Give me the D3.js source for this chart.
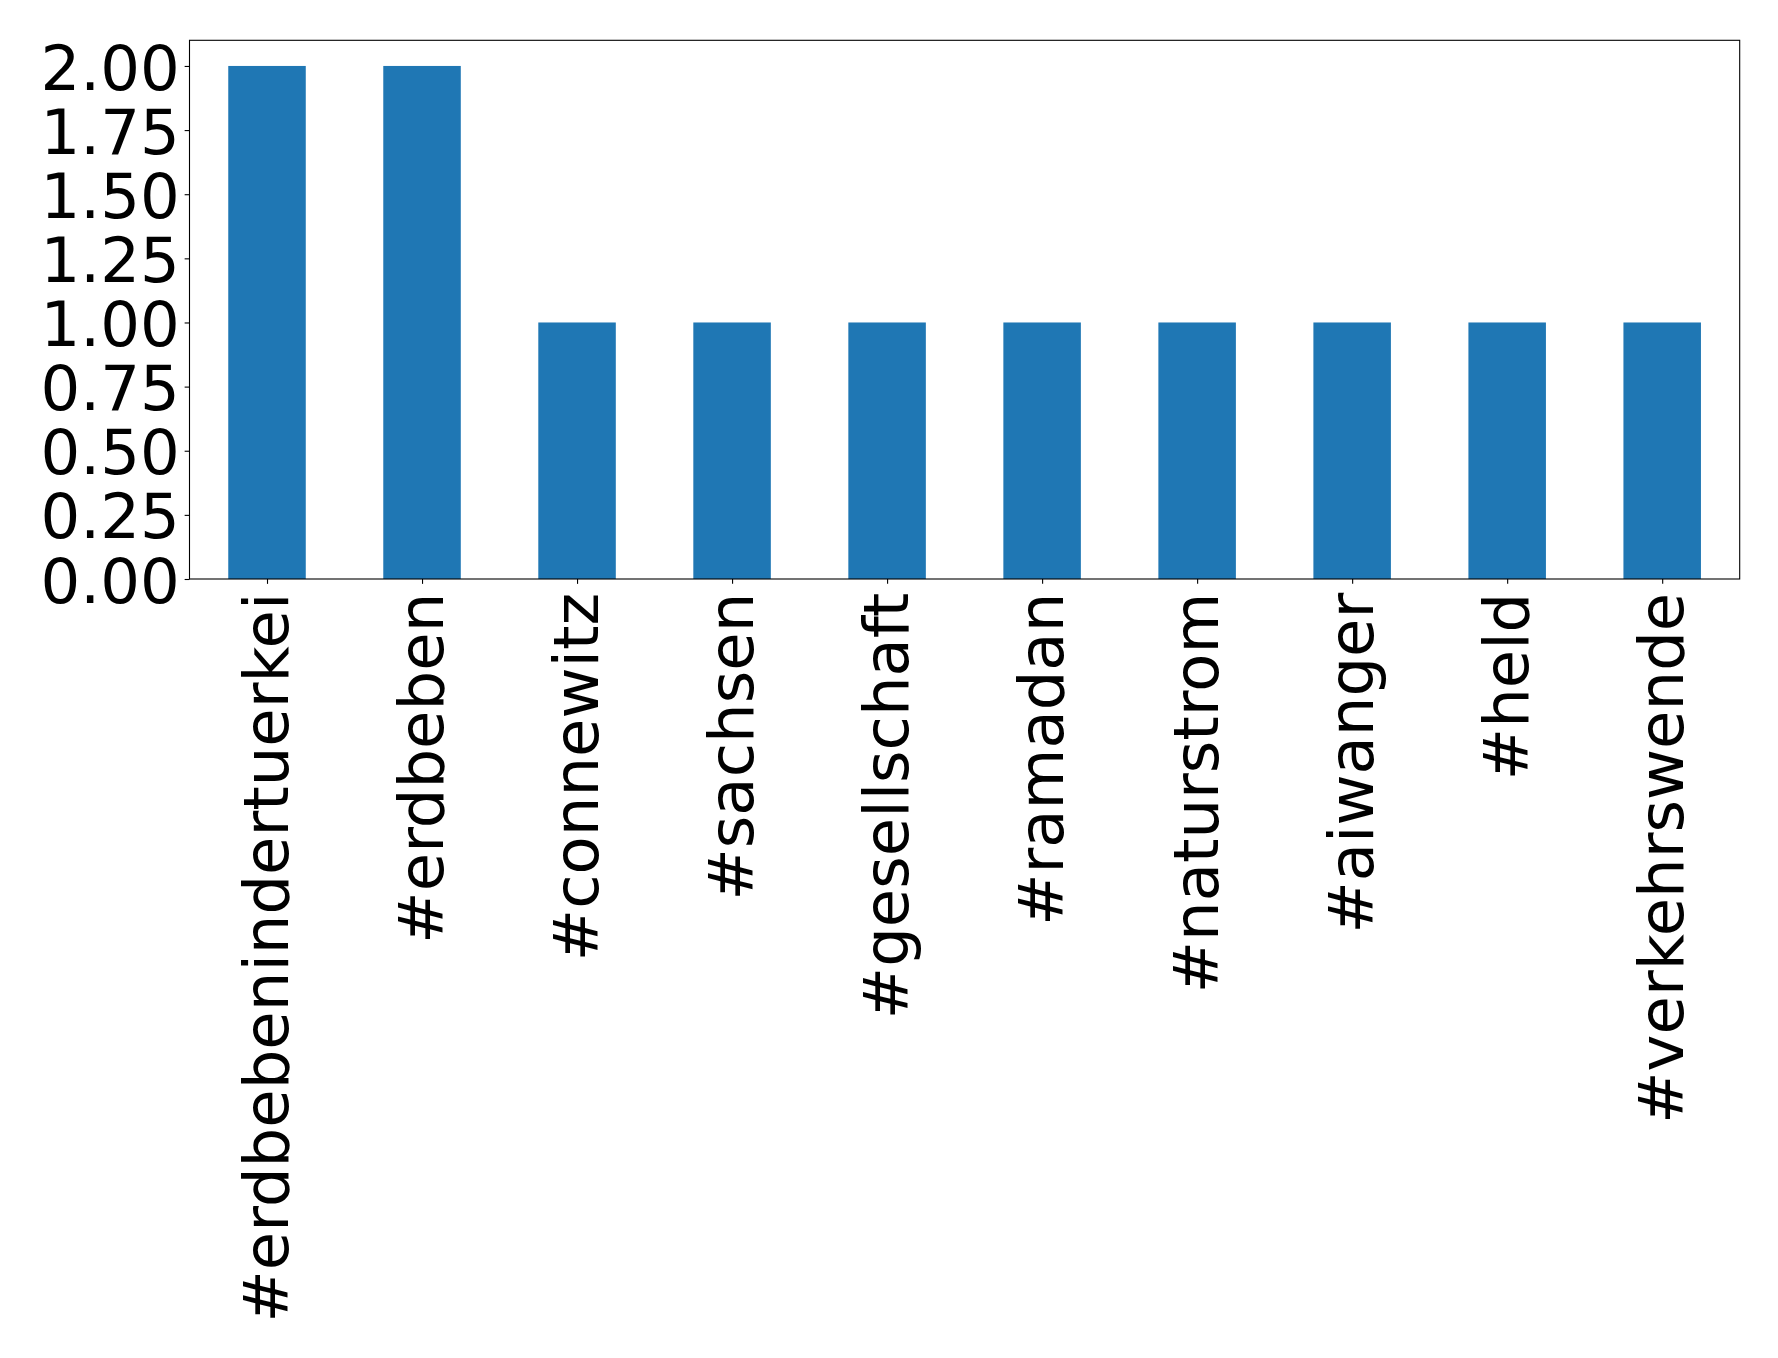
<!DOCTYPE html>
<html>
<head>
<meta charset="utf-8">
<script src="https://cdn.jsdelivr.net/npm/d3@7"></script>
<style>
  html, body { margin: 0; padding: 0; background: #fff; }
  svg { display: block; }
  text { font-family: "DejaVu Sans", sans-serif; fill: #000; }
</style>
</head>
<body>
<svg id="chart" width="1778" height="1358"></svg>
<script>
const categories = ["#erdbebenindertuerkei", "#erdbeben", "#connewitz", "#sachsen", "#gesellschaft", "#ramadan", "#naturstrom", "#aiwanger", "#held", "#verkehrswende"];
const counts = [2, 2, 1, 1, 1, 1, 1, 1, 1, 1];
const yTicks = [0, 0.25, 0.5, 0.75, 1.0, 1.25, 1.5, 1.75, 2.0];

(function () {
const plotLeft = 189.5, plotRight = 1739.7, plotTop = 40.3, plotBottom = 579;
const fontSize = 62.5;
const tickLen = 4.86, pad = 4.86;

const svg = d3.select("#chart");

const x = d3.scaleLinear().domain([-0.5, categories.length - 0.5]).range([plotLeft, plotRight]);
const y = d3.scaleLinear().domain([0, 2.1]).range([plotBottom, plotTop]);
const barW = 0.5;

// bars
svg.append("g").selectAll("rect").data(counts).join("rect")
  .attr("x", (d, i) => x(i - barW / 2))
  .attr("width", (d, i) => x(i + barW / 2) - x(i - barW / 2))
  .attr("y", d => y(d))
  .attr("height", d => y(0) - y(d))
  .attr("fill", "#1f77b4");

// y axis
const yAxis = d3.axisLeft(y).tickValues(yTicks).tickFormat(d3.format(".2f"))
  .tickSize(tickLen).tickPadding(pad);
const gy = svg.append("g").attr("transform", `translate(${plotLeft},0)`).call(yAxis);
gy.select(".domain").remove();
gy.selectAll(".tick line").attr("stroke", "#000").attr("stroke-width", 1.1);
gy.selectAll(".tick text").attr("font-size", fontSize).attr("font-family", "DejaVu Sans")
  .attr("fill", "#000").attr("dy", "0.37em");

// x axis
const xAxis = d3.axisBottom(x).tickValues(d3.range(categories.length))
  .tickFormat(i => categories[i]).tickSize(tickLen).tickPadding(pad);
const gx = svg.append("g").attr("transform", `translate(0,${plotBottom})`).call(xAxis);
gx.select(".domain").remove();
gx.selectAll(".tick line").attr("stroke", "#000").attr("stroke-width", 1.1);
gx.selectAll(".tick text")
  .attr("font-size", fontSize).attr("font-family", "DejaVu Sans").attr("fill", "#000")
  .attr("text-anchor", "end")
  .attr("transform", `translate(0,${tickLen + pad + 4}) rotate(-90)`)
  .attr("x", 0).attr("y", 0).attr("dy", "0.32em");

// spines
svg.append("rect")
  .attr("x", plotLeft).attr("y", plotTop)
  .attr("width", plotRight - plotLeft).attr("height", plotBottom - plotTop)
  .attr("fill", "none").attr("stroke", "#000").attr("stroke-width", 1.1);
})();
</script>
</body>
</html>
